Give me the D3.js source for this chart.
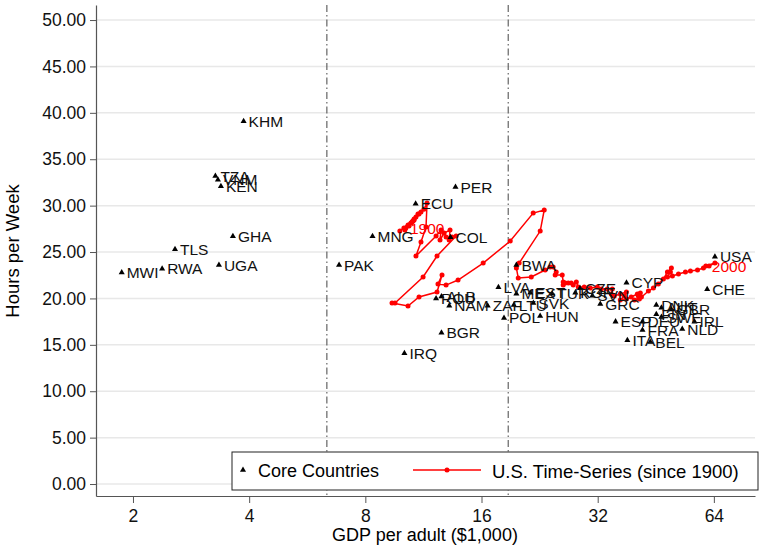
<!DOCTYPE html>
<html>
<head>
<meta charset="utf-8">
<script src="https://cdn.jsdelivr.net/npm/d3@7"></script>
<style>
  body { margin: 0; background: #fff; }
  svg { display: block; font-family: "Liberation Sans", Arial, sans-serif; }
</style>
</head>
<body>
<svg id="chart" width="761" height="550"></svg>
<script>
// core countries (GDP per adult in $1,000, hours per week)
const countryCodes = ["KHM","TZA","VNM","KEN","GHA","TLS","UGA","RWA","MWI","PAK","MNG","ECU","PER","COL","IRQ","BGR","ROU","ALB","NAM","ZAF","LVA","LTU","POL","BWA","MEX","EST","SVK","HUN","TUR","KOR","CZE","SVN","GRC","CYP","ESP","ITA","DEU","FRA","BEL","DNK","FIN","AUT","SWE","GBR","NLD","IRL","CHE","USA"];
const countryGdp   = [3.87,3.27,3.32,3.38,3.63,2.57,3.34,2.38,1.87,6.84,8.35,10.8,13.7,13.3,10.1,12.6,12.2,12.6,13.2,16.6,17.7,19.4,18.3,19.7,19.7,21.4,21.8,22.7,24.4,28.0,28.8,31.0,32.5,38.0,35.6,38.2,41.8,41.8,43.8,45.4,45.4,46.8,46.8,49.7,53.0,57.0,61.5,64.4];
const countryHours = [39.1,33.2,32.8,32.1,26.7,25.3,23.6,23.2,22.8,23.6,26.7,30.2,32.0,26.6,14.1,16.3,20.0,20.2,19.2,19.2,21.2,19.3,17.9,23.6,20.5,20.6,19.5,18.1,20.5,20.6,21.1,20.3,19.4,21.7,17.5,15.5,17.5,16.6,15.3,19.3,18.3,19.0,18.0,18.8,16.7,17.5,21.0,24.5];

// U.S. time series, 1900-2000
const usYears = d3.range(1900, 2001);
const usGdp = [
  10.07,10.32,10.19,10.50,10.13,10.63,10.95,10.82,9.83,10.57,
  10.70,10.63,11.02,11.15,10.38,10.70,11.35,11.56,11.49,11.15,
  10.82,12.20,12.57,12.49,12.80,13.26,13.19,12.95,13.42,13.75,
  12.27,11.29,9.55,9.38,10.32,11.02,12.27,12.64,12.34,12.95,
  13.91,16.16,18.99,21.78,23.26,22.71,20.03,19.70,19.92,21.53,
  23.39,24.10,24.53,24.99,24.83,25.90,26.05,26.37,26.05,26.85,
  27.33,27.66,28.17,28.50,29.53,30.61,31.93,32.70,33.89,34.92,
  34.71,35.33,36.62,37.98,37.50,36.62,37.98,39.09,40.54,41.27,
  40.78,41.53,39.84,41.03,43.30,44.61,45.95,47.36,48.51,49.67,
  49.38,48.51,49.97,51.81,54.01,55.64,58.05,60.13,62.20,64.40,
  61.00
];
const usHours = [
  27.59,27.91,27.59,28.13,27.37,28.34,29.09,28.77,27.26,28.23,
  28.56,28.34,29.09,29.31,27.80,28.45,29.60,30.28,27.69,26.08,
  24.57,26.72,27.37,26.29,27.05,27.37,26.29,26.62,26.62,26.72,
  24.57,22.31,19.50,19.50,19.18,20.15,20.69,22.52,21.55,21.44,
  21.98,23.81,26.19,29.20,29.53,27.26,23.81,23.28,22.20,22.31,
  23.06,23.38,23.38,22.84,22.52,22.52,21.77,21.66,21.44,21.66,
  21.66,21.44,21.77,21.23,21.23,21.12,21.23,21.01,21.01,21.01,
  20.47,20.26,20.47,20.69,20.26,19.83,19.94,20.15,20.47,20.58,
  20.26,20.15,19.83,19.94,20.80,21.12,21.55,22.09,22.84,23.28,
  22.84,22.31,22.41,22.63,22.84,22.95,23.06,23.28,23.49,23.81,
  23.49
];
const usLabelYears = [1900, 2000];

// income group cut-offs (dash-dot lines)
const cutoffs = [6.36, 18.76];

const xTicks = [2, 4, 8, 16, 32, 64];
const yTicks = [0, 5, 10, 15, 20, 25, 30, 35, 40, 45, 50];

const legendLabels = ["Core Countries", "U.S. Time-Series (since 1900)"];

const svg = d3.select("#chart");
const plotL = 96, plotR = 755, plotT = 5, plotB = 496;

const x = d3.scaleLog().base(2).domain([1.604, 81.8]).range([plotL, plotR]);
const y = d3.scaleLinear().domain([-1.29, 51.62]).range([plotB, plotT]);

// gridlines
svg.append("g")
  .selectAll("line")
  .data(yTicks)
  .join("line")
  .attr("x1", plotL).attr("x2", plotR)
  .attr("y1", d => y(d)).attr("y2", d => y(d))
  .attr("stroke", "#e8e8e8").attr("stroke-width", 1.5);

// cutoff lines
svg.append("g")
  .selectAll("line")
  .data(cutoffs)
  .join("line")
  .attr("x1", d => x(d)).attr("x2", d => x(d))
  .attr("y1", plotT).attr("y2", plotB)
  .attr("stroke", "#444").attr("stroke-width", 1)
  .attr("stroke-dasharray", "7,3,1.5,3");

// axes
const yAxis = svg.append("g")
  .attr("transform", `translate(${plotL},0)`)
  .call(d3.axisLeft(y).tickValues(yTicks).tickFormat(d3.format(".2f")).tickSize(6).tickSizeOuter(0));
const xAxis = svg.append("g")
  .attr("transform", `translate(0,${plotB})`)
  .call(d3.axisBottom(x).tickValues(xTicks).tickFormat(d3.format("d")).tickSize(7).tickSizeOuter(0));

[yAxis, xAxis].forEach(a => {
  a.select(".domain").attr("stroke", "#555").attr("stroke-width", 1.2);
  a.selectAll(".tick line").attr("stroke", "#555");
  a.selectAll("text").attr("fill", "#111").style("font-size", "17.5px")
    .style("font-family", "'Liberation Sans', Arial, sans-serif");
});
yAxis.selectAll("text").attr("x", -10);
xAxis.selectAll("text").attr("y", 14);

// axis titles
svg.append("text")
  .attr("transform", "translate(19,251) rotate(-90)")
  .attr("text-anchor", "middle")
  .style("font-size", "18.5px")
  .text("Hours per Week");
svg.append("text")
  .attr("x", 425).attr("y", 541)
  .attr("text-anchor", "middle")
  .style("font-size", "18px")
  .text("GDP per adult ($1,000)");

// US time series
const usData = usYears.map((yr, i) => ({ yr, gdp: usGdp[i], h: usHours[i] }));
const line = d3.line().x(d => x(d.gdp)).y(d => y(d.h));
svg.append("path")
  .datum(usData)
  .attr("d", line)
  .attr("fill", "none")
  .attr("stroke", "#ff0000")
  .attr("stroke-width", 1.5);
svg.append("g")
  .selectAll("circle")
  .data(usData)
  .join("circle")
  .attr("cx", d => x(d.gdp)).attr("cy", d => y(d.h))
  .attr("r", 2.5)
  .attr("fill", "#ff0000");

// countries
const tri = d3.symbol().type(d3.symbolTriangle).size(16);
const countries = countryCodes.map((c, i) => ({ c, gdp: countryGdp[i], h: countryHours[i] }));
const cg = svg.append("g");
cg.selectAll("path")
  .data(countries)
  .join("path")
  .attr("d", tri)
  .attr("transform", d => `translate(${x(d.gdp)},${y(d.h)})`)
  .attr("fill", "#000");
cg.selectAll("text")
  .data(countries)
  .join("text")
  .attr("x", d => x(d.gdp) + 5)
  .attr("y", d => y(d.h))
  .attr("dy", "0.36em")
  .style("font-size", "15.5px")
  .attr("fill", "#111")
  .text(d => d.c);

// year labels
svg.append("g")
  .selectAll("text")
  .data(usData.filter(d => usLabelYears.includes(d.yr)))
  .join("text")
  .attr("x", d => x(d.gdp) + 6)
  .attr("y", d => y(d.h))
  .attr("dy", "0.36em")
  .style("font-size", "15.5px")
  .attr("fill", "#ff0000")
  .text(d => d.yr);

// legend
const lg = svg.append("g");
lg.append("rect")
  .attr("x", 232).attr("y", 452).attr("width", 526).attr("height", 38)
  .attr("fill", "#fff").attr("stroke", "#222").attr("stroke-width", 1);
lg.append("path")
  .attr("d", tri)
  .attr("transform", "translate(243,470)")
  .attr("fill", "#000");
lg.append("text")
  .attr("x", 258).attr("y", 471).attr("dy", "0.36em")
  .style("font-size", "18px")
  .text(legendLabels[0]);
lg.append("line")
  .attr("x1", 413).attr("x2", 481).attr("y1", 470).attr("y2", 470)
  .attr("stroke", "#ff0000").attr("stroke-width", 1.6);
lg.append("circle")
  .attr("cx", 447).attr("cy", 470).attr("r", 2.5).attr("fill", "#ff0000");
lg.append("text")
  .attr("x", 492).attr("y", 471).attr("dy", "0.36em")
  .style("font-size", "18.5px")
  .text(legendLabels[1]);
</script>
</body>
</html>
